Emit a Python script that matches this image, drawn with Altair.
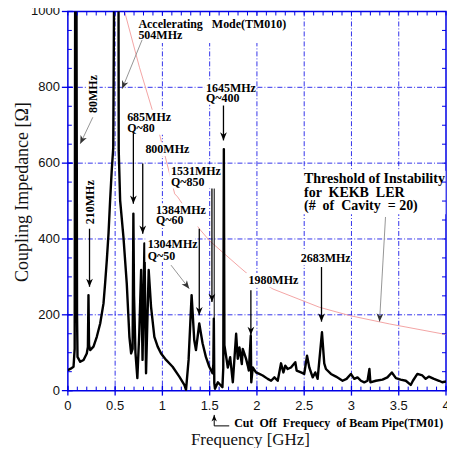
import altair as alt
import pandas as pd

W, H = 379, 380
BLUE = "#0000e6"
NB = "\u00a0"

# ---------------- impedance spectrum (GHz, Ohm) ----------------
freq = [0.000, 0.030, 0.060, 0.072, 0.078, 0.090, 0.097, 0.102, 0.131, 0.166,
        0.200, 0.212, 0.218, 0.224, 0.236, 0.271, 0.306, 0.342, 0.377, 0.394,
        0.412, 0.430, 0.447, 0.464, 0.480, 0.488, 0.505, 0.536, 0.538, 0.553,
        0.588, 0.623, 0.651, 0.669, 0.685, 0.693, 0.700, 0.715, 0.735, 0.755,
        0.775, 0.790, 0.810, 0.827, 0.855, 0.880, 0.915, 0.950, 0.986, 1.039,
        1.108, 1.179, 1.232, 1.250, 1.277, 1.309, 1.337, 1.355, 1.390, 1.425,
        1.460, 1.496, 1.530, 1.539, 1.544, 1.549, 1.556, 1.587, 1.635, 1.644,
        1.650, 1.656, 1.692, 1.717, 1.745, 1.780, 1.797, 1.815, 1.840, 1.850,
        1.868, 1.886, 1.903, 1.914, 1.935, 1.940, 1.956, 1.990, 2.026, 2.061,
        2.114, 2.150, 2.185, 2.220, 2.255, 2.280, 2.300, 2.325, 2.360, 2.406,
        2.420, 2.466, 2.500, 2.530, 2.554, 2.590, 2.617, 2.642, 2.660, 2.688,
        2.712, 2.730, 2.783, 2.836, 2.906, 2.948, 2.994, 3.030, 3.064, 3.100,
        3.135, 3.170, 3.190, 3.200, 3.258, 3.328, 3.380, 3.427, 3.470, 3.520,
        3.575, 3.627, 3.650, 3.697, 3.750, 3.785, 3.820, 3.873, 3.926, 3.960,
        4.000]
imp = [54, 58, 63, 110, 1200, 1200, 200, 89, 76, 81,
       98, 115, 252, 120, 107, 116, 142, 177, 230, 283,
       344, 414, 502, 581, 640, 1000, 1300, 1000, 633, 502,
       405, 283, 142, 98, 110, 467, 250, 100, 33, 150,
       318, 81, 388, 46, 318, 221, 142, 116, 98, 81,
       63, 37, 15, 2, 81, 252, 133, 107, 177, 125,
       89, 63, 46, 70, 190, 20, 5, 22, 9, 60,
       637, 120, 61, 88, 22, 150, 84, 114, 70, 110,
       97, 83, 66, 53, 145, 22, 61, 48, 44, 40,
       31, 26, 35, 26, 72, 48, 66, 57, 61, 75,
       53, 48, 44, 92, 61, 35, 48, 31, 79, 154,
       72, 57, 44, 37, 26, 31, 44, 31, 35, 26,
       22, 26, 57, 22, 26, 29, 35, 48, 33, 29,
       26, 15, 26, 44, 40, 31, 37, 31, 26, 22,
       24]

# ---------------- instability threshold (GHz, Ohm) ----------------
thr_freq = [0.60, 0.757, 0.968, 1.13, 1.161, 1.39, 1.50, 1.82, 1.90, 2.17,
            2.66, 2.98, 3.40, 4.00]
thr_imp = [1000, 853, 678, 519, 511, 427, 395, 325, 308, 268,
           220, 198, 176, 148]

# ---------------- axis ticks / labels ----------------
x_ticks = [0, 0.5, 1, 1.5, 2, 2.5, 3, 3.5, 4]
x_labels = ["0", "0.5", "1", "1.5", "2", "2.5", "3", "3.5", "4"]
y_ticks = [0, 200, 400, 600, 800, 1000]
y_labels = ["0", "200", "400", "600", "800", "1000"]
grid_x = [0.5, 1, 1.5, 2, 2.5, 3, 3.5]
grid_y = [200, 400, 600, 800]
x_minor = [round(i * 0.1, 1) for i in range(41)]
y_minor = [i * 50 for i in range(21)]
x_title = ["Frequency [GHz]"]
y_title = ["Coupling Impedance [Ω]"]

# ---------------- annotation labels (data units) ----------------
lab_text = ["Accelerating " + NB * 2 + "Mode(TM010)", "504MHz", "1645MHz", "Q~400",
            "685MHz", "Q~80", "800MHz", "1531MHz", "Q~850",
            "1384MHz", "Q~60", "1304MHz", "Q~50", "1980MHz", "2683MHz"]
lab_f = [0.746, 0.746, 1.461, 1.461, 0.627, 0.627, 0.820, 1.091, 1.091,
         0.933, 0.933, 0.844, 0.844, 1.910, 2.463]
lab_z = [967, 938, 799, 771, 723, 693, 636, 578, 549,
         476, 450, 386, 355, 291, 349]

thr_text = ["Threshold of Instability",
            "for " + NB + "KEKB " + NB + "LER",
            "(# " + NB + "of " + NB + "Cavity " + NB + "= 20)"]
thr_tf = [2.498, 2.498, 2.498]
thr_tz = [559, 520, 487]

rot_text = ["80MHz", "210MHz"]
rot_f = [0.264, 0.236]
rot_z = [782, 497]

cut_text = ["Cut " + NB + "Off " + NB + "Frequecy " + NB + "of Beam Pipe(TM01)"]
cut_f = [1.759]
cut_z = [-85]

# white boxes behind label blocks (f1, f2, z1, z2)
box_f1 = [0.725, 1.443, 0.609, 0.799, 1.073, 0.915, 0.820, 1.886, 2.445, 2.477, 0.197, 0.166]
box_f2 = [2.361, 1.985, 1.094, 1.295, 1.590, 1.432, 1.348, 2.414, 2.983, 3.995, 0.335, 0.303]
box_z1 = [917, 754, 675, 619, 533, 433, 339, 273, 331, 465, 729, 436]
box_z2 = [988, 818, 741, 655, 597, 494, 404, 310, 368, 580, 836, 560]

# arrows: start (f, z) -> end (f, z), colour, head angle
arr_f1 = [0.229, 1.646, 0.693, 0.792, 1.524, 1.390, 1.936, 2.683, 0.264, 0.785, 1.091, 3.360]
arr_z1 = [427, 752, 679, 599, 533, 427, 265, 326, 721, 925, 331, 458]
arr_f2 = [0.229, 1.646, 0.693, 0.792, 1.524, 1.390, 1.936, 2.683, 0.131, 0.574, 1.284, 3.297]
arr_z2 = [274, 660, 493, 414, 234, 199, 147, 182, 651, 796, 269, 182]
arr_col = ["#000000"] * 8 + ["#8a8a8a"] * 4
arr_head = ["#000000"] * 8 + ["#333333"] * 4
arr_w = [1.3] * 8 + [0.9] * 4
arr_ang = [0, 0, 0, 0, 0, 0, 0, 0, 25, 22, 322, 3]

# plain lines (no head)
ln_f1 = [1.548, 1.548]
ln_z1 = [533, -93]
ln_f2 = [1.548, 1.707]
ln_z2 = [190, -93]
# cut-off arrow (upwards)
up_f1 = [1.548]
up_z1 = [-93]
up_f2 = [1.548]
up_z2 = [-64]

# ---------------- chart ----------------
xs = alt.Scale(domain=[0, 4], nice=False, zero=False)
ys = alt.Scale(domain=[0, 1000], nice=False, zero=False)
SERIF = "Liberation Serif"
SANS = "Liberation Sans"


def X(field):
    return alt.X(field, scale=xs, axis=None)


def Y(field):
    return alt.Y(field, scale=ys, axis=None)


gx_df = pd.DataFrame({"v": grid_x})
gy_df = pd.DataFrame({"v": grid_y})
grid_v = alt.Chart(gx_df).mark_rule(color=BLUE, strokeWidth=0.8, strokeDash=[5, 2, 1, 2]).encode(
    x=X("v:Q"), y=alt.value(0), y2=alt.value(H))
grid_h = alt.Chart(gy_df).mark_rule(color=BLUE, strokeWidth=0.8, strokeDash=[5, 2, 1, 2]).encode(
    y=Y("v:Q"), x=alt.value(0), x2=alt.value(W))

spec_df = pd.DataFrame({"f": freq, "z": imp})
thr_df = pd.DataFrame({"f": thr_freq, "z": thr_imp})

red = alt.Chart(thr_df).mark_line(color="#f29a9a", strokeWidth=0.9, clip=True).encode(
    x=X("f:Q"), y=Y("z:Q"))

curve = alt.Chart(spec_df).mark_line(color="black", strokeWidth=2.4, clip=True,
                                     strokeJoin="round").encode(x=X("f:Q"), y=Y("z:Q"))

box_df = pd.DataFrame({"f1": box_f1, "f2": box_f2, "z1": box_z1, "z2": box_z2})
boxes = alt.Chart(box_df).mark_rect(color="white", opacity=1).encode(
    x=X("f1:Q"), x2="f2:Q", y=Y("z1:Q"), y2="z2:Q")

arr_df = pd.DataFrame({"f1": arr_f1, "z1": arr_z1, "f2": arr_f2, "z2": arr_z2,
                       "c": arr_col, "h": arr_head, "w": arr_w, "a": arr_ang})
arrows = alt.Chart(arr_df).mark_rule().encode(
    x=X("f1:Q"), x2="f2:Q", y=Y("z1:Q"), y2="z2:Q",
    color=alt.Color("c:N", scale=None),
    strokeWidth=alt.StrokeWidth("w:Q", scale=None),
)
HEAD = "M0,0L-1,-2.4L0,-1.7L1,-2.4Z"
heads = alt.Chart(arr_df).mark_point(shape=HEAD, filled=True, size=46, opacity=1).encode(
    x=X("f2:Q"), y=Y("z2:Q"),
    color=alt.Color("h:N", scale=None),
    angle=alt.Angle("a:Q", scale=None),
)

ln_df = pd.DataFrame({"f1": ln_f1, "z1": ln_z1, "f2": ln_f2, "z2": ln_z2})
plain = alt.Chart(ln_df).mark_rule(color="black", strokeWidth=1.0).encode(
    x=X("f1:Q"), x2="f2:Q", y=Y("z1:Q"), y2="z2:Q")
up_df = pd.DataFrame({"f1": up_f1, "z1": up_z1, "f2": up_f2, "z2": up_z2})
up_line = alt.Chart(up_df).mark_rule(color="black", strokeWidth=1.0).encode(
    x=X("f1:Q"), x2="f2:Q", y=Y("z1:Q"), y2="z2:Q")
up_head = alt.Chart(up_df).mark_point(shape=HEAD, filled=True, size=30, opacity=1,
                                      color="black", angle=180).encode(
    x=X("f2:Q"), y=Y("z2:Q"))

lab_df = pd.DataFrame({"f": lab_f, "z": lab_z, "t": lab_text})
labels = alt.Chart(lab_df).mark_text(align="left", baseline="middle", font=SERIF,
                                     fontWeight="bold", fontSize=12, color="black").encode(
    x=X("f:Q"), y=Y("z:Q"), text="t:N")

thr_tdf = pd.DataFrame({"f": thr_tf, "z": thr_tz, "t": thr_text})
thr_labels = alt.Chart(thr_tdf).mark_text(align="left", baseline="middle", font=SERIF,
                                          fontWeight="bold", fontSize=14, color="black").encode(
    x=X("f:Q"), y=Y("z:Q"), text="t:N")

rot_df = pd.DataFrame({"f": rot_f, "z": rot_z, "t": rot_text})
rot_labels = alt.Chart(rot_df).mark_text(align="center", baseline="middle", font=SERIF,
                                         fontWeight="bold", fontSize=12, angle=270,
                                         color="black").encode(
    x=X("f:Q"), y=Y("z:Q"), text="t:N")

cut_df = pd.DataFrame({"f": cut_f, "z": cut_z, "t": cut_text})
cut_label = alt.Chart(cut_df).mark_text(align="left", baseline="middle", font=SERIF,
                                        fontWeight="bold", fontSize=12, color="black").encode(
    x=X("f:Q"), y=Y("z:Q"), text="t:N")

# ticks
xm_df = pd.DataFrame({"v": x_minor})
ym_df = pd.DataFrame({"v": y_minor})
xt_df = pd.DataFrame({"v": x_ticks, "t": x_labels})
yt_df = pd.DataFrame({"v": y_ticks, "t": y_labels})
tick_b = alt.Chart(xm_df).mark_rule(color=BLUE, strokeWidth=1).encode(
    x=X("v:Q"), y=alt.value(H), y2=alt.value(H - 4))
tick_t = alt.Chart(xm_df).mark_rule(color=BLUE, strokeWidth=1).encode(
    x=X("v:Q"), y=alt.value(0), y2=alt.value(4))
tick_l = alt.Chart(ym_df).mark_rule(color=BLUE, strokeWidth=1).encode(
    y=Y("v:Q"), x=alt.value(0), x2=alt.value(4))
tick_r = alt.Chart(ym_df).mark_rule(color=BLUE, strokeWidth=1).encode(
    y=Y("v:Q"), x=alt.value(W), x2=alt.value(W - 4))
major_b = alt.Chart(xt_df).mark_rule(color=BLUE, strokeWidth=1.3).encode(
    x=X("v:Q"), y=alt.value(H - 5), y2=alt.value(H + 5))
major_l = alt.Chart(yt_df).mark_rule(color=BLUE, strokeWidth=1.3).encode(
    y=Y("v:Q"), x=alt.value(-6), x2=alt.value(5))
xlab = alt.Chart(xt_df).mark_text(align="center", baseline="middle", font=SANS,
                                  fontSize=13, color="#111111").encode(
    x=X("v:Q"), y=alt.value(H + 15), text="t:N")
ylab = alt.Chart(yt_df).mark_text(align="right", baseline="middle", font=SANS,
                                  fontSize=13, color="#111111").encode(
    y=Y("v:Q"), x=alt.value(-8), text="t:N")
xtitle = alt.Chart(pd.DataFrame({"t": x_title})).mark_text(
    align="center", baseline="alphabetic", font=SERIF, fontSize=17, color="#111111").encode(
    x=alt.value(183), y=alt.value(434), text="t:N")
ytitle = alt.Chart(pd.DataFrame({"t": y_title})).mark_text(
    align="center", baseline="alphabetic", font=SERIF, fontSize=18, angle=270,
    color="#111111").encode(x=alt.value(-40), y=alt.value(181), text="t:N")

chart = alt.layer(
    grid_v, grid_h, red, curve, boxes, arrows, plain, heads, up_line, up_head,
    labels, thr_labels, rot_labels, cut_label,
    tick_b, tick_t, tick_l, tick_r, major_b, major_l, xlab, ylab, xtitle, ytitle,
).properties(
    width=W, height=H,
    padding={"left": 60, "top": 3, "right": 1, "bottom": 57},
    autosize="none",
    background="white",
).configure_view(stroke=BLUE, strokeWidth=1.5)

chart.save("out.html", embed_options={"renderer": "svg", "actions": False})
